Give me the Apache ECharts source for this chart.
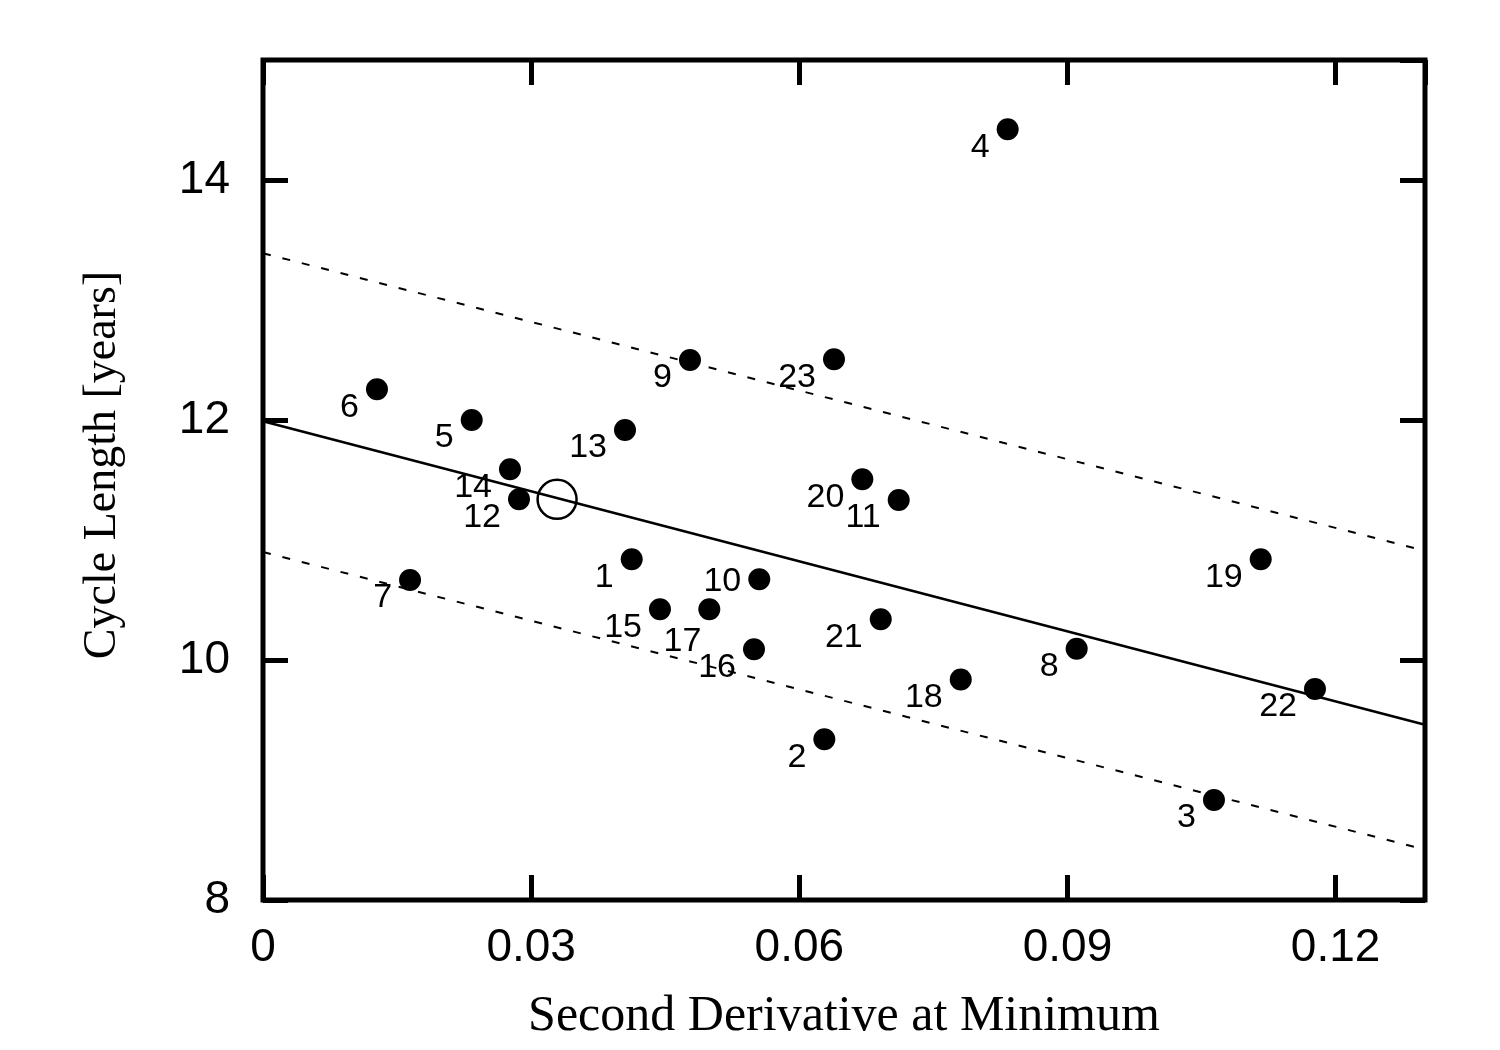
<!DOCTYPE html>
<html>
<head>
<meta charset="utf-8">
<script src="https://cdn.jsdelivr.net/npm/echarts@6/dist/echarts.min.js"></script>
<style>
html, body { margin: 0; padding: 0; background: #ffffff; }
#chart { width: 1500px; height: 1050px; }
</style>
</head>
<body>
<div id="chart"></div>
<script>
// ---- data ----
const pointIds = ['1','2','3','4','5','6','7','8','9','10','11','12','13','14','15','16','17','18','19','20','21','22','23'];
const xValues = [0.04125, 0.06280, 0.10639, 0.08331, 0.02335, 0.01275, 0.01645, 0.09103, 0.04777, 0.05552, 0.07112, 0.02864, 0.04050, 0.02763, 0.04441, 0.05493, 0.04993, 0.07806, 0.11162, 0.06705, 0.06911, 0.11769, 0.06388];
const yValues = [10.839, 9.339, 8.834, 14.423, 12.000, 12.256, 10.667, 10.093, 12.500, 10.673, 11.333, 11.339, 11.917, 11.589, 10.423, 10.089, 10.423, 9.838, 10.840, 11.506, 10.339, 9.758, 12.506];
const currentX = [0.0329];
const currentY = [11.339];
const fitX = [0, 0.13];
const fitY = [11.99, 9.46];
const upperY = [13.39, 10.91];
const lowerY = [10.90, 8.42];
const xTickValues = [0, 0.03, 0.06, 0.09, 0.12];
const xTickLabels = ['0', '0.03', '0.06', '0.09', '0.12'];
const yTickValues = [8, 10, 12, 14];
const yTickLabels = ['8', '10', '12', '14'];
const xTitle = 'Second Derivative at Minimum';
const yTitle = 'Cycle Length [years]';

// label nudges (style only)
const defaultLabelShift = [0, 18];
const labelShiftOverrides = { '10': [0, 2], '17': [10, 32] };

function tickFormatter(values, labels) {
  return function (v) {
    const i = values.findIndex(t => Math.abs(t - v) < 1e-9);
    return i >= 0 ? labels[i] : '';
  };
}

const pointData = pointIds.map((id, i) => ({ value: [xValues[i], yValues[i]], name: id }));
const pair = (xs, ys) => xs.map((x, i) => [x, ys[i]]);

const makeTick = () => ({ show: true, inside: true, length: 25, lineStyle: { color: '#000', width: 5 } });
const makeLine = () => ({ show: false, onZero: false });
const makeLabelFont = () => ({ fontFamily: 'Liberation Sans', fontSize: 46, color: '#000' });

const chart = echarts.init(document.getElementById('chart'), null, { renderer: 'canvas' });
chart.setOption({
  animation: false,
  backgroundColor: '#ffffff',
  grid: { left: 263, right: 75, top: 60, bottom: 150, show: true, borderColor: '#000', borderWidth: 5, backgroundColor: 'transparent' },
  xAxis: [
    {
      type: 'value', position: 'bottom', min: 0, max: 0.13, interval: 0.03,
      axisLine: makeLine(), axisTick: makeTick(), splitLine: { show: false },
      axisLabel: Object.assign({ margin: 25, showMaxLabel: false, formatter: tickFormatter(xTickValues, xTickLabels) }, makeLabelFont()),
      name: xTitle, nameLocation: 'middle', nameGap: 92,
      nameTextStyle: { fontFamily: 'Liberation Serif', fontSize: 50, color: '#000' }
    },
    {
      type: 'value', position: 'top', min: 0, max: 0.13, interval: 0.03,
      axisLine: makeLine(), axisTick: makeTick(), splitLine: { show: false },
      axisLabel: { show: false }
    }
  ],
  yAxis: [
    {
      type: 'value', position: 'left', min: 8, max: 15, interval: 2,
      axisLine: makeLine(), axisTick: makeTick(), splitLine: { show: false },
      axisLabel: Object.assign({ margin: 33, showMaxLabel: false, formatter: tickFormatter(yTickValues, yTickLabels) }, makeLabelFont()),
      name: yTitle, nameLocation: 'middle', nameGap: 137, nameRotate: 90,
      nameTextStyle: { fontFamily: 'Liberation Serif', fontSize: 46, color: '#000', padding: [0, 0, 0, 30] }
    },
    {
      type: 'value', position: 'right', min: 8, max: 15, interval: 2,
      axisLine: makeLine(), axisTick: makeTick(), splitLine: { show: false },
      axisLabel: { show: false }
    }
  ],
  series: [
    {
      type: 'line', data: pair(fitX, upperY), symbol: 'none', silent: true,
      lineStyle: { color: '#000', width: 2, type: [8, 12] }, z: 1
    },
    {
      type: 'line', data: pair(fitX, lowerY), symbol: 'none', silent: true,
      lineStyle: { color: '#000', width: 2, type: [8, 12] }, z: 1
    },
    {
      type: 'line', data: pair(fitX, fitY), symbol: 'none', silent: true,
      lineStyle: { color: '#000', width: 2.5, type: 'solid' }, z: 1
    },
    {
      type: 'scatter', data: pair(currentX, currentY), symbol: 'circle', symbolSize: 39,
      itemStyle: { color: 'rgba(0,0,0,0)', borderColor: '#000', borderWidth: 2.5, opacity: 1 }, z: 2
    },
    {
      type: 'scatter', data: pointData, symbol: 'circle', symbolSize: 22,
      itemStyle: { color: '#000', opacity: 1 }, z: 3,
      label: {
        show: true, position: 'left', distance: 7,
        formatter: p => p.name,
        fontFamily: 'Liberation Sans', fontSize: 34, color: '#000'
      },
      labelLayout: function (p) {
        const id = pointIds[p.dataIndex];
        const s = labelShiftOverrides[id] || defaultLabelShift;
        return { dx: s[0], dy: s[1], hideOverlap: false };
      }
    }
  ]
});
</script>
</body>
</html>
